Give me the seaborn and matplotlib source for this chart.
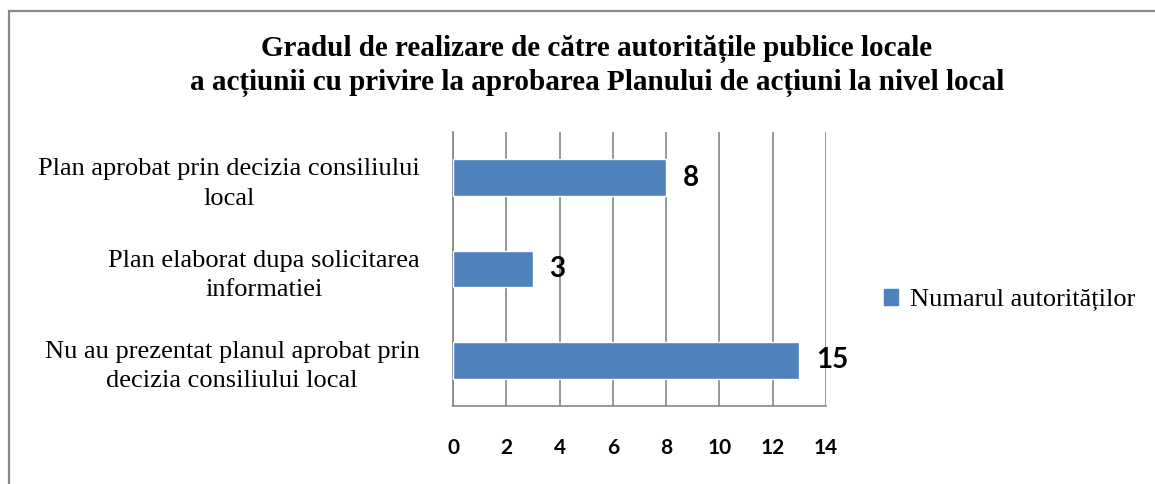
import matplotlib
matplotlib.use("Agg")
import matplotlib.pyplot as plt
import seaborn as sns
import pandas as pd
from matplotlib.patches import Rectangle, Patch

categories = [
    "Plan aprobat prin decizia consiliului\nlocal",
    "Plan elaborat dupa solicitarea\ninformatiei",
    "Nu au prezentat planul aprobat prin\ndecizia consiliului local",
]
values = [8, 3, 13]
value_labels = ["8", "3", "15"]
series_name = "Numarul autorităților"
x_ticks = [0, 2, 4, 6, 8, 10, 12, 14]
title = ("Gradul de realizare de către autoritățile publice locale\n"
         "a acțiunii cu privire la aprobarea Planului de acțiuni la nivel local")

sns.set_style("white")
plt.rcParams["font.family"] = ["Liberation Serif", "DejaVu Serif"]
plt.rcParams["text.color"] = "black"
plt.rcParams["xtick.labelcolor"] = "black"
plt.rcParams["ytick.labelcolor"] = "black"

bar_color = "#4F81BD"
grid_color = "#868686"

df = pd.DataFrame({"cat": categories, "val": values})

fig = plt.figure(figsize=(11.55, 4.84), dpi=100)
ax = fig.add_axes([453/1155, 1-406/484, (826-453)/1155, (406-132)/484])

sns.barplot(data=df, x="val", y="cat", orient="h", color=bar_color,
            width=0.4, ax=ax, saturation=1, zorder=3)

ax.set_xlim(0, 14)
ax.set_ylim(2.5, -0.5)
ax.set_xticks(x_ticks)
ax.set_xticklabels([str(t) for t in x_ticks], fontfamily="Lato",
                   fontweight="bold", fontsize=15, color="black")
ax.set_xlabel("")
ax.set_ylabel("")

# y ticks at category boundaries, labels at centers
ax.set_yticks([-0.5, 0.5, 1.5, 2.5])
ax.set_yticklabels([])
ax.tick_params(axis="y", which="major", length=6, color=grid_color, width=1, direction="out")
ax.set_yticks([0, 1, 2], minor=True)
ax.set_yticklabels(categories, minor=True, fontsize=19, multialignment="center",
                   linespacing=1.45, color="black")
ax.tick_params(axis="y", which="minor", length=0, pad=24)
ax.tick_params(axis="x", length=6, color=grid_color, width=1, direction="out", pad=17)

ax.xaxis.grid(True, color=grid_color, linewidth=1.2, zorder=0)
ax.set_axisbelow(True)
for s in ["top", "right"]:
    ax.spines[s].set_visible(False)
for s in ["left", "bottom"]:
    ax.spines[s].set_color(grid_color)
    ax.spines[s].set_linewidth(1.2)

for i, (v, lab) in enumerate(zip(values, value_labels)):
    ax.annotate(lab, xy=(v, i), xytext=(12, 0), textcoords="offset points",
                ha="left", va="center", fontfamily="Lato", fontweight="bold",
                fontsize=20, color="black")

fig.text(597/1155, 1-66/484, title, ha="center", va="center",
         fontsize=21, fontweight="bold", linespacing=1.25, color="black")

handles = [Patch(facecolor=bar_color, edgecolor=bar_color)]
fig.legend(handles, [series_name], loc="center left",
           bbox_to_anchor=(860/1155, 1-300/484), frameon=False,
           fontsize=19, handlelength=0.55, handleheight=0.55, handletextpad=0.45,
           labelcolor="black")

fig.patches.append(Rectangle((9/1155, -0.1), 1.2, 1.1 - 11/484,
                             transform=fig.transFigure, fill=False,
                             edgecolor="#888888", linewidth=1.6))

fig.savefig("out.png", dpi=100, facecolor="white")
